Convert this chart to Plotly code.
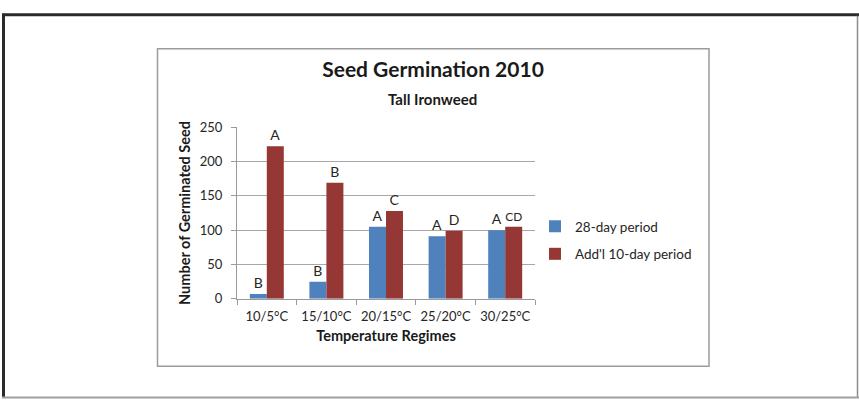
import plotly.graph_objects as go

categories = ["10/5°C", "15/10°C", "20/15°C", "25/20°C", "30/25°C"]
period28 = [7, 25, 105, 91, 100]
period_add10 = [222, 169, 128, 99, 105]
letters28 = ["B", "B", "A", "A", "A"]
letters_add10 = ["A", "B", "C", "D", "CD"]
y_ticks = [0, 50, 100, 150, 200, 250]

W, H = 859, 407
FONT = "Lato"
TXT = "#262626"


def px_x(x):
    return x / W


def px_y(y):
    return 1 - y / H


fig = go.Figure()
fig.add_trace(go.Bar(
    x=categories, y=period28, name="28-day period",
    marker=dict(color="#4F81BD", line=dict(width=0)),
    text=letters28, textposition="outside", cliponaxis=False,
    textfont=dict(family=FONT, size=14, color=TXT),
    legendgroup="a",
))
fig.add_trace(go.Bar(
    x=categories, y=period_add10, name="Add'l 10-day period",
    marker=dict(color="#953735", line=dict(width=0)),
    text=letters_add10, textposition="outside", cliponaxis=False,
    textfont=dict(family=FONT, size=14, color=TXT),
    legendgroup="b",
))

shapes = [
    # outer frame
    dict(type="line", xref="paper", yref="paper", x0=px_x(2), x1=px_x(859), y0=px_y(7), y1=px_y(7),
         line=dict(color="#2a2a2a", width=3)),
    dict(type="line", xref="paper", yref="paper", x0=px_x(3.5), x1=px_x(3.5), y0=px_y(6), y1=px_y(406),
         line=dict(color="#2a2a2a", width=3)),
    dict(type="line", xref="paper", yref="paper", x0=px_x(857.5), x1=px_x(857.5), y0=px_y(8), y1=px_y(406),
         line=dict(color="#8c8c8c", width=1.5)),
    dict(type="line", xref="paper", yref="paper", x0=px_x(2), x1=px_x(859), y0=px_y(405.5), y1=px_y(405.5),
         line=dict(color="#a0a0a0", width=2)),
    # inner chart box
    dict(type="rect", xref="paper", yref="paper", x0=px_x(157.5), x1=px_x(709), y0=px_y(373), y1=px_y(42.5),
         line=dict(color="#9c9c9c", width=1.5)),
]

fig.update_layout(
    width=W, height=H,
    margin=dict(l=0, r=0, t=0, b=0),
    paper_bgcolor="white", plot_bgcolor="white",
    font=dict(family=FONT, color=TXT, size=13),
    barmode="group", bargap=0.43, bargroupgap=0,
    title=dict(text="<b>Seed Germination 2010</b>", x=px_x(433), xanchor="center",
               y=px_y(70), yanchor="middle", font=dict(family=FONT, size=21, color="#1a1a1a")),
    xaxis=dict(domain=[px_x(237), px_x(535)], showgrid=False, showline=True, linecolor="#9a9a9a",
               linewidth=1, ticks="outside", tickson="boundaries", ticklen=5, tickcolor="#9a9a9a",
               tickfont=dict(family=FONT, size=13, color=TXT), ticklabelstandoff=6,
               title=dict(text="<b>Temperature Regimes</b>", font=dict(family=FONT, size=14.5, color="#1a1a1a"),
                          standoff=7)),
    yaxis=dict(domain=[px_y(302.7), px_y(124)], range=[0, 250], tickvals=y_ticks,
               showgrid=True, gridcolor="#a8a8a8", gridwidth=1, showline=True, linecolor="#9a9a9a",
               linewidth=1, ticks="outside", ticklen=5, tickcolor="#9a9a9a", zeroline=False,
               tickfont=dict(family=FONT, size=13, color=TXT), ticklabelstandoff=6,
               title=dict(text="<b>Number of Germinated Seed</b>", font=dict(family=FONT, size=14.5, color="#1a1a1a"),
                          standoff=5)),
    legend=dict(x=px_x(535), xanchor="left", y=px_y(242), yanchor="middle",
                font=dict(family=FONT, size=13.5, color=TXT), bgcolor="rgba(0,0,0,0)",
                traceorder="grouped", tracegroupgap=7),
    shapes=shapes,
    annotations=[dict(text="<b>Tall Ironweed</b>", xref="paper", yref="paper", x=px_x(432), y=px_y(95),
                      xanchor="center", yanchor="middle", showarrow=False,
                      font=dict(family=FONT, size=15, color="#1a1a1a"))],
)

fig.write_html("out.html", config={"displayModeBar": False},
               post_script="document.body.style.margin='0';document.body.style.overflow='hidden';")
